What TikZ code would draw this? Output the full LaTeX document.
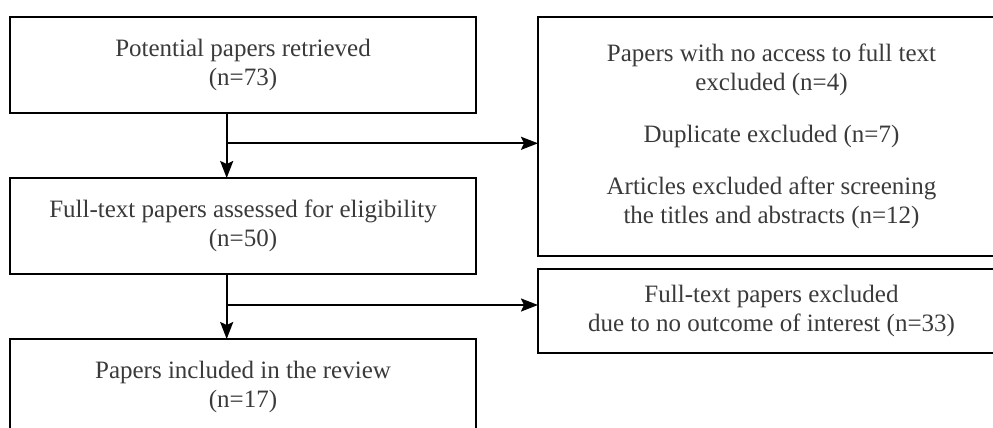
\documentclass[tikz,border=0pt]{standalone}
\usepackage{fontspec}
\setmainfont{Liberation Serif}
\usepackage{xcolor}
\usepackage{tikz}
\usetikzlibrary{arrows.meta,positioning,calc}
\definecolor{textgray}{RGB}{58,58,58}
\tikzset{
  stagebox/.style={
    rectangle,
    draw=black,
    line width=2.4pt,
    minimum width=466pt,
    minimum height=96pt,
    outer sep=0pt,
    align=center,
    text=textgray,
    font=\fontsize{25}{29}\selectfont
  },
  exclbox/.style={
    rectangle,
    draw=black,
    line width=2.4pt,
    minimum width=467pt,
    outer sep=0pt,
    align=center,
    text=textgray,
    font=\fontsize{25}{29}\selectfont
  },
  flow/.style={-{Stealth[length=17pt,width=13pt,inset=3pt]}, line width=2pt, black}
}

\begin{document}
\begin{tikzpicture}
\useasboundingbox (0,0) rectangle (993pt,-428pt);
\clip (0,0) rectangle (993pt,-428pt);
\node[stagebox] (found) at (243pt,-65pt) {Potential papers retrieved\\(n=73)};
\node[stagebox, below=65pt of found] (assessed) {Full-text papers assessed for eligibility\\(n=50)};
\node[stagebox, below=65pt of assessed] (included) {Papers included in the review\\(n=17)};
\node[exclbox, minimum height=239pt, right=62pt of found.north east, anchor=north west] (screened)
  {Papers with no access to full text\\excluded (n=4)\\[23pt]Duplicate excluded (n=7)\\[23pt]Articles excluded after screening\\the titles and abstracts (n=12)};
\node[exclbox, minimum height=84pt, below=13pt of screened] (nooutcome) {Full-text papers excluded\\due to no outcome of interest (n=33)};
\coordinate (split1) at ($(found.south)+(-16.3pt,-30.3pt)$);
\coordinate (split2) at ($(assessed.south)+(-16.3pt,-31pt)$);
\draw[flow] (found.south -| split1) -- (assessed.north -| split1);
\draw[flow] (split1) -- (split1 -| screened.west);
\draw[flow] (assessed.south -| split2) -- (included.north -| split2);
\draw[flow] (split2) -- (split2 -| nooutcome.west);
\end{tikzpicture}
\end{document}
